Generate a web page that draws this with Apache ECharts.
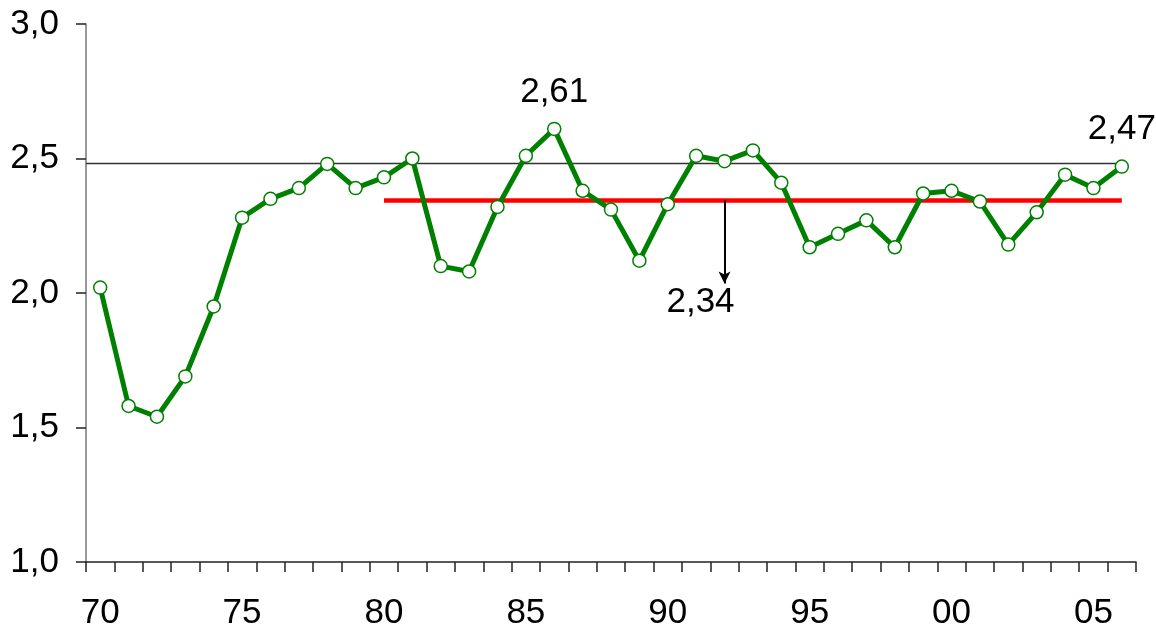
<!DOCTYPE html>
<html>
<head>
<meta charset="utf-8">
<style>
  html, body { margin: 0; padding: 0; background: #fff; }
  #chart { width: 1156px; height: 631px; }
</style>
<script src="https://cdn.jsdelivr.net/npm/echarts@6/dist/echarts.min.js"></script>
</head>
<body>
<div id="chart"></div>
<script>
// ---- data ----
const years = ['70','71','72','73','74','75','76','77','78','79',
               '80','81','82','83','84','85','86','87','88','89',
               '90','91','92','93','94','95','96','97','98','99',
               '00','01','02','03','04','05','06'];
const values = [2.02, 1.58, 1.54, 1.69, 1.95, 2.28, 2.35, 2.39, 2.48, 2.39,
                2.43, 2.50, 2.10, 2.08, 2.32, 2.51, 2.61, 2.38, 2.31, 2.12,
                2.33, 2.51, 2.49, 2.53, 2.41, 2.17, 2.22, 2.27, 2.17, 2.37,
                2.38, 2.34, 2.18, 2.30, 2.44, 2.39, 2.47];
const labelledYears = ['86', '06'];
const avgValue = 2.344;          // red average line
const avgFromYear = '80';
const avgLabel = '2,34';
const arrowYear = '92';
const arrowEndValue = 2.035;
const avgLabelValue = 1.967;
const refLevel = 2.481;          // thin black reference line
const yTicks = [1.0, 1.5, 2.0, 2.5, 3.0];

// ---- build ----
const fmt = v => v.toFixed(2).replace('.', ',');
const FONT = 'Liberation Sans, Arial, sans-serif';

const greenData = values.map((v, i) =>
  labelledYears.includes(years[i])
    ? { value: v, label: { show: true, formatter: fmt(v) } }
    : v);
const fromIdx = years.indexOf(avgFromYear);
const avgData = years.map((y, i) => (i >= fromIdx ? avgValue : null));
const refData = [[-0.5, refLevel], [years.length - 1, refLevel]];

const chart = echarts.init(document.getElementById('chart'));
chart.setOption({
  animation: false,
  backgroundColor: '#fff',
  grid: { left: 86, right: 20, top: 24, bottom: 67, containLabel: false },
  xAxis: [{
    type: 'category',
    data: years,
    boundaryGap: true,
    axisLine: { show: true, onZero: false, lineStyle: { color: '#222', width: 1.5 } },
    axisTick: { show: true, interval: 0, length: 10, alignWithLabel: false,
                lineStyle: { color: '#222', width: 1.5 } },
    axisLabel: { interval: (i) => i % 5 === 0, margin: 34, fontSize: 35,
                 color: '#000', fontFamily: FONT },
    splitLine: { show: false }
  }, {
    type: 'value', min: -0.5, max: years.length - 0.5, show: false
  }],
  yAxis: {
    type: 'value',
    min: yTicks[0], max: yTicks[yTicks.length - 1], interval: 0.5,
    axisLine: { show: true, onZero: false, lineStyle: { color: '#777', width: 1.5 } },
    axisTick: { show: true, length: 10, lineStyle: { color: '#222', width: 1.5 } },
    axisLabel: { margin: 27, fontSize: 35, color: '#000', fontFamily: FONT,
                 formatter: v => v.toFixed(1).replace('.', ',') },
    splitLine: { show: false }
  },
  series: [{
    type: 'line',
    xAxisIndex: 1,
    data: refData,
    symbol: 'none',
    lineStyle: { color: '#333', width: 1.5 },
    z: 1,
    silent: true
  }, {
    type: 'line',
    data: avgData,
    symbol: 'none',
    lineStyle: { color: '#ff0000', width: 4.5 },
    z: 2,
    silent: true,
    markLine: {
      silent: true,
      symbol: ['none', 'arrow'],
      symbolSize: [9, 12],
      lineStyle: { color: '#000', width: 2, type: 'solid' },
      label: { show: false },
      data: [[{ coord: [arrowYear, avgValue] }, { coord: [arrowYear, arrowEndValue] }]]
    },
    markPoint: {
      silent: true,
      symbol: 'circle',
      symbolSize: 1,
      itemStyle: { color: 'rgba(0,0,0,0)' },
      label: { show: true, position: 'inside', offset: [-24, 0], formatter: avgLabel,
               fontSize: 35, color: '#000', fontFamily: FONT },
      data: [{ coord: [arrowYear, avgLabelValue] }]
    }
  }, {
    type: 'line',
    data: greenData,
    symbol: 'circle',
    symbolSize: 13,
    showAllSymbol: true,
    lineStyle: { color: '#008000', width: 5 },
    itemStyle: { color: '#ffffff', borderColor: '#008000', borderWidth: 1.5 },
    label: { show: false, position: 'top', distance: 12, fontSize: 35,
             color: '#000', fontFamily: FONT },
    z: 3
  }]
});
</script>
</body>
</html>
